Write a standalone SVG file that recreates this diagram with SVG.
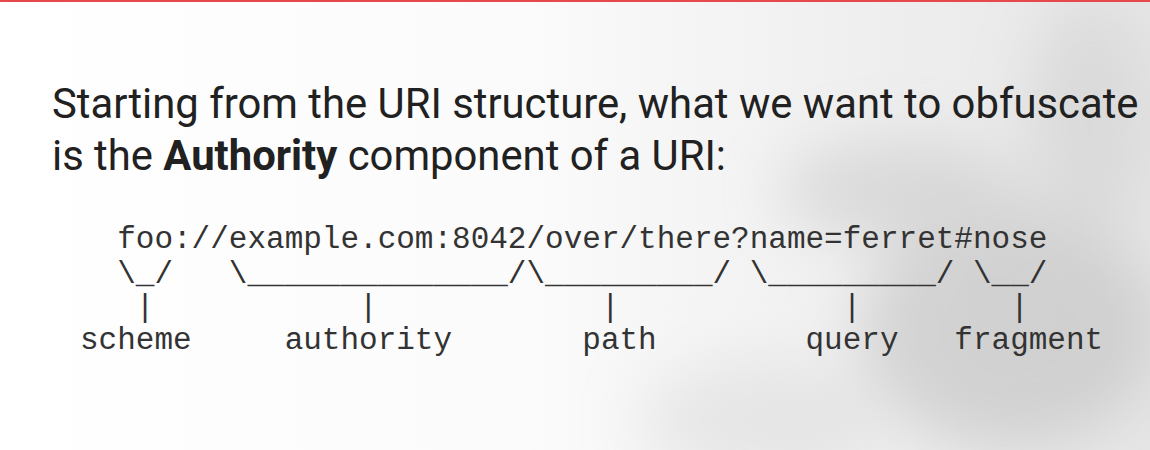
<svg xmlns="http://www.w3.org/2000/svg" width="1150" height="450" viewBox="0 0 1150 450">
<defs>
<linearGradient id="bg" x1="0" y1="0" x2="1" y2="0">
<stop offset="0" stop-color="#ffffff"/>
<stop offset="0.45" stop-color="#fbfbfb"/>
<stop offset="0.7" stop-color="#f1f1f1"/>
<stop offset="1" stop-color="#e6e6e6"/>
</linearGradient>
<filter id="blur" x="-50%" y="-50%" width="200%" height="200%"><feGaussianBlur stdDeviation="30"/></filter>
<style>
.title{font-family:Roboto,"Liberation Sans",sans-serif;font-size:41.8px;fill:#212121}
.mono{font-family:"Liberation Mono","Courier New",monospace;font-size:31px;fill:#333333;white-space:pre}
</style>
</defs>
<g id="background">
<rect x="0" y="0" width="1150" height="450" fill="url(#bg)"/>
<g filter="url(#blur)" opacity="0.55">
<ellipse cx="1010" cy="330" rx="150" ry="120" fill="#bdbdbd"/>
<ellipse cx="900" cy="190" rx="120" ry="50" fill="#c8c8c8"/>
<ellipse cx="1090" cy="120" rx="60" ry="120" fill="#cfcfcf"/>
<ellipse cx="760" cy="420" rx="120" ry="60" fill="#dcdcdc"/>
</g>
<rect x="0" y="0" width="1150" height="2" fill="#e5484d"/>
</g>
<g id="title">
<text class="title" x="52" y="118">Starting from the URI structure, what we want to obfuscate</text>
<text class="title" x="52" y="170">is the <tspan font-weight="bold">Authority</tspan> component of a URI:</text>
</g>
<g id="uri-diagram">
<text class="mono" x="80" y="248" xml:space="preserve">  foo://example.com:8042/over/there?name=ferret#nose</text>
<text class="mono" x="80" y="283" xml:space="preserve">  \_/   \______________/\_________/ \_________/ \__/</text>
<text class="mono" x="80" y="316" xml:space="preserve">   |           |            |            |        |</text>
<text class="mono" x="80" y="349" xml:space="preserve">scheme     authority       path        query   fragment</text>
</g>
</svg>
